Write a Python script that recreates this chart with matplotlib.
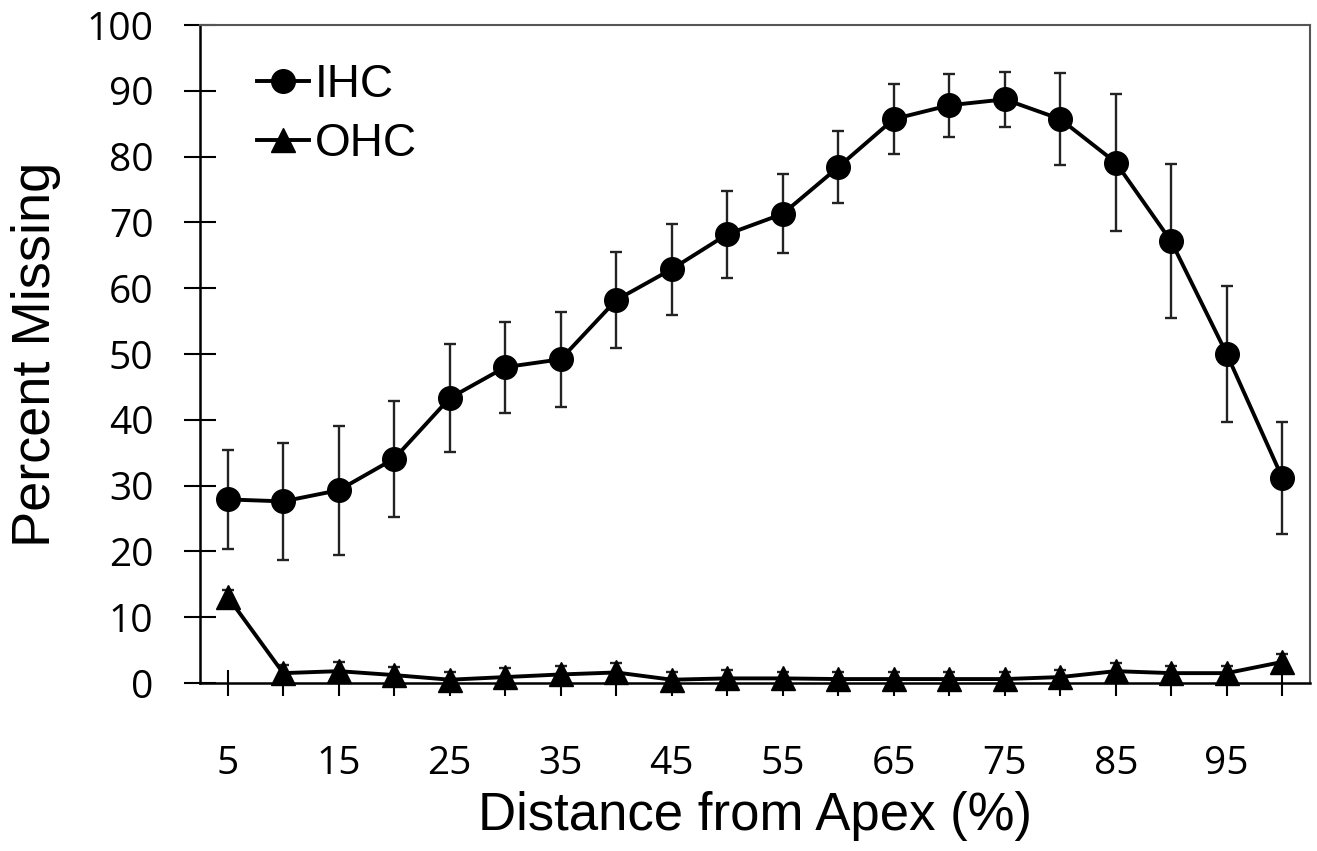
import matplotlib
matplotlib.use("Agg")
import matplotlib.pyplot as plt
import numpy as np

##################### DATA #########################
distance = [5, 10, 15, 20, 25, 30, 35, 40, 45, 50,
            55, 60, 65, 70, 75, 80, 85, 90, 95, 100]

ihc = [27.9, 27.6, 29.3, 34.1, 43.3, 48.0, 49.2, 58.2, 62.9, 68.2,
       71.3, 78.4, 85.7, 87.8, 88.7, 85.7, 79.1, 67.1, 50.0, 31.2]
ihc_err = [7.5, 8.9, 9.8, 8.8, 8.2, 6.9, 7.2, 7.3, 6.9, 6.6,
           6.0, 5.5, 5.3, 4.8, 4.2, 7.0, 10.4, 11.7, 10.4, 8.5]

ohc = [13.1, 1.5, 1.8, 1.2, 0.5, 0.9, 1.3, 1.6, 0.5, 0.7,
       0.7, 0.6, 0.6, 0.6, 0.6, 0.9, 1.8, 1.5, 1.5, 3.2]
ohc_err = [1.1, 1.2, 1.4, 1.3, 1.2, 1.4, 1.3, 1.4, 1.2, 1.2,
           1.0, 1.0, 1.0, 1.0, 1.0, 1.1, 1.2, 1.1, 1.1, 1.2]

xtick_labels = [str(d) if i % 2 == 0 else '' for i, d in enumerate(distance)]
yticks = list(range(0, 101, 10))
####################################################

label_font = 'Liberation Sans'
tick_font = 'Open Sans'

fig = plt.figure(figsize=(13.17, 8.51), dpi=100)
ax = fig.add_axes([200/1317, 1 - 683/851, 1110/1317, 658/851])

# error bars first so the markers sit on top
ax.errorbar(distance, ihc, yerr=ihc_err, fmt='none', ecolor='#222222',
            elinewidth=1.7, capsize=4.5, capthick=1.7, zorder=2)
ohc_eb = ax.errorbar(distance, ohc, yerr=ohc_err, fmt='none', ecolor='#222222',
                     elinewidth=1.7, capsize=4.5, capthick=1.7, zorder=2)

ax.plot(distance, ihc, '-o', color='black', lw=2.8, markersize=17,
        label='IHC', zorder=3, clip_on=False)
ax.plot(distance, ohc, '-^', color='black', lw=2.8, markersize=17,
        label='OHC', zorder=3, clip_on=False)

ax.set_xlim(2.5, 102.5)
ax.set_ylim(0, 100)

ax.set_xticks(distance)
ax.set_xticklabels(xtick_labels)
ax.set_yticks(yticks)

ax.tick_params(axis='x', direction='inout', length=19, width=1.5,
               pad=35, labelsize=28, labelfontfamily=tick_font,
               colors='black')
ax.tick_params(axis='y', direction='inout', length=23, width=1.5,
               pad=22, labelsize=28, labelfontfamily=tick_font,
               colors='black')

for s in ['left', 'bottom']:
    ax.spines[s].set_color('black')
    ax.spines[s].set_linewidth(1.8)
for s in ['top', 'right']:
    ax.spines[s].set_color('#555555')
    ax.spines[s].set_linewidth(1.5)

ax.set_xlabel('Distance from Apex (%)', fontsize=38, family=label_font,
              labelpad=6)
ax.set_ylabel('Percent Missing', fontsize=39, family=label_font,
              labelpad=18)

ax.legend(loc='upper left', bbox_to_anchor=(0.051, 0.942), frameon=False,
          prop={'family': label_font, 'size': 33}, handlelength=1.15,
          handletextpad=0.12, labelspacing=0.32, borderpad=0,
          borderaxespad=0)

fig.savefig('out.png', dpi=100)
